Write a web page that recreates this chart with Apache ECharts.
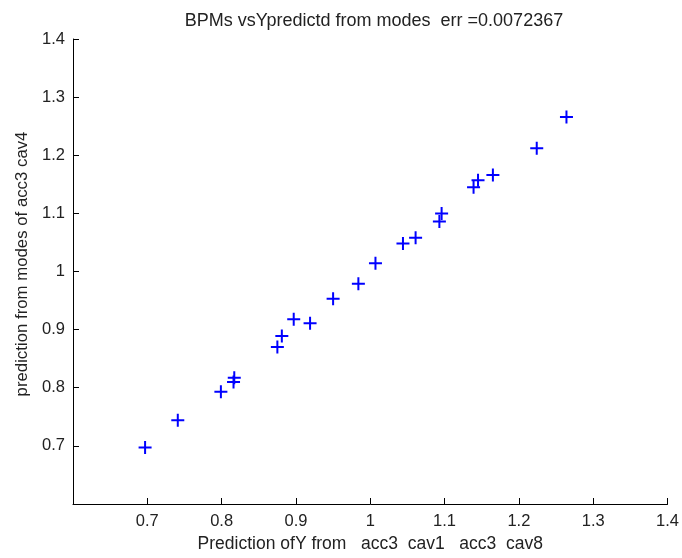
<!DOCTYPE html>
<html>
<head>
<meta charset="utf-8">
<script src="https://cdn.jsdelivr.net/npm/echarts@6/dist/echarts.min.js"></script>
<style>
html,body{margin:0;padding:0;background:#fff;}
#chart{width:682px;height:558px;}
</style>
</head>
<body>
<div id="chart"></div>
<script>
// predicted Y from cavities (x) vs prediction from modes (y)
var predX = [0.697, 0.741, 0.799, 0.816, 0.817, 0.875, 0.881, 0.897, 0.919, 0.950, 0.984,
             1.007, 1.044, 1.061, 1.093, 1.096, 1.139, 1.145, 1.165, 1.224, 1.264];
var predY = [0.697, 0.744, 0.793, 0.810, 0.817, 0.870, 0.889, 0.918, 0.911, 0.953, 0.979,
             1.014, 1.048, 1.058, 1.086, 1.100, 1.145, 1.157, 1.166, 1.212, 1.266];
var titleText = 'BPMs vsYpredictd from modes  err =0.0072367';
var xName = 'Prediction ofY from   acc3  cav1   acc3  cav8';
var yName = 'prediction from modes of acc3 cav4';

var pts = predX.map(function (x, i) { return [x, predY[i]]; });

var font = 'Liberation Sans, Arial, sans-serif';
var chart = echarts.init(document.getElementById('chart'));

var axisCommon = {
    type: 'value',
    min: 0.6,
    max: 1.4,
    interval: 0.1,
    splitLine: {show: false},
    axisLine: {lineStyle: {color: '#000', width: 1}},
    axisTick: {inside: true, length: 6, lineStyle: {color: '#000'}},
    axisLabel: {
        showMinLabel: false,
        color: '#222',
        fontFamily: font,
        fontSize: 16.5,
        formatter: function (v) { return String(+v.toFixed(1)); }
    },
    nameLocation: 'middle',
    nameTextStyle: {color: '#222', fontFamily: font, fontSize: 17.5}
};

chart.setOption({
    animation: false,
    backgroundColor: '#fff',
    title: {
        text: titleText,
        left: 369,
        textAlign: 'center',
        top: 7,
        textStyle: {color: '#222', fontFamily: font, fontSize: 18, fontWeight: 'normal'}
    },
    grid: {left: 73, right: 13, top: 39, bottom: 51},
    xAxis: Object.assign({}, axisCommon, {
        name: xName,
        nameGap: 31,
        axisLabel: Object.assign({}, axisCommon.axisLabel, {margin: 9})
    }),
    yAxis: Object.assign({}, axisCommon, {
        name: yName,
        nameGap: 38,
        nameTextStyle: Object.assign({}, axisCommon.nameTextStyle, {fontSize: 16.8, padding: [0, 0, 0, 15]}),
        axisLabel: Object.assign({}, axisCommon.axisLabel, {margin: 8})
    }),
    series: [{
        type: 'scatter',
        data: pts,
        symbol: 'path://M5.5,0H7.5V5.5H13V7.5H7.5V13H5.5V7.5H0V5.5H5.5Z',
        symbolSize: 13,
        itemStyle: {color: '#0000ff', opacity: 1}
    }]
});
</script>
</body>
</html>
